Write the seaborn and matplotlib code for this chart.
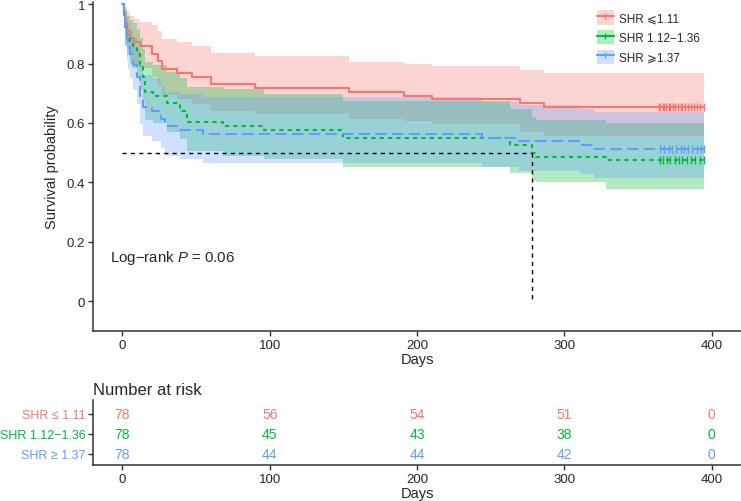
import matplotlib
matplotlib.use('Agg')
import matplotlib.pyplot as plt
import seaborn as sns
from matplotlib.lines import Line2D
from matplotlib.patches import Patch

# Groups
groups = ['SHR \u2a7d1.11', 'SHR 1.12\u22121.36', 'SHR \u2a7e1.37']
table_labels = ['SHR \u2264 1.11', 'SHR 1.12\u22121.36', 'SHR \u2265 1.37']
colors = ['#F8766D', '#00BA38', '#619CFF']
styles = ['-', (0, (2, 2)), (0, (5.5, 2.5))]

# Kaplan-Meier steps
red_t = [0, 1, 2, 3, 5, 8, 12, 20, 24, 27, 37, 47, 60, 90, 154, 191, 210, 270, 286]
red_s = [1, .962, .936, .910, .885, .872, .859, .833, .808, .782, .769, .756, .731, .718, .705, .692, .679, .667, .654]
red_up = [1, 1, .99, .975, .96, .95, .94, .93, .91, .882, .871, .86, .837, .826, .806, .80, .79, .779, .768]
red_lo = [1, .92, .88, .85, .815, .80, .785, .755, .725, .695, .68, .665, .64, .63, .613, .605, .596, .57, .555]

green_t = [0, 1, 2, 3, 5, 7, 10, 12, 14, 15.5, 21, 30, 39, 44, 68, 96, 150, 263, 278, 281, 328]
green_s = [1, .962, .923, .897, .872, .859, .833, .795, .756, .705, .692, .667, .641, .603, .590, .577, .551, .526, .500, .487, .474]
green_up = [1, 1, .98, .96, .945, .935, .915, .885, .85, .805, .795, .772, .75, .72, .714, .697, .674, .648, .62, .61, .60]
green_lo = [1, .92, .86, .83, .80, .785, .75, .71, .67, .61, .60, .57, .545, .505, .49, .478, .453, .433, .405, .40, .377]

blue_t = [0, 1, 2, 3, 4, 5, 7, 10, 12, 14, 20, 26, 29, 39, 55, 244, 269, 311, 320]
blue_s = [1, .962, .923, .885, .859, .833, .795, .756, .692, .654, .641, .615, .590, .577, .564, .551, .538, .526, .513]
blue_up = [1, 1, .98, .955, .935, .915, .885, .85, .795, .76, .75, .725, .705, .697, .686, .672, .66, .648, .636]
blue_lo = [1, .92, .86, .81, .78, .75, .71, .665, .595, .555, .54, .515, .49, .478, .465, .452, .44, .428, .415]

end_time = 395

# Censored times
red_cens = [364, 365, 367, 368, 369, 371, 372, 374, 375, 377, 379, 380, 382, 384, 386, 388, 390, 392, 395]
green_cens = [365, 367, 370, 372, 375, 378, 380, 383, 386, 389, 392, 395]
blue_cens = [365, 368, 371, 373, 376, 379, 381, 384, 387, 390, 393, 395]

# Number at risk
risk_times = [0, 100, 200, 300, 400]
red_risk = [78, 56, 54, 51, 0]
green_risk = [78, 45, 43, 38, 0]
blue_risk = [78, 44, 44, 42, 0]

median_time = 278
median_surv = 0.5

sns.set_style('white')
plt.rcParams['font.family'] = ['Liberation Sans', 'DejaVu Sans']
plt.rcParams['mathtext.fontset'] = 'custom'
plt.rcParams['mathtext.rm'] = 'Liberation Sans'
plt.rcParams['mathtext.it'] = 'Liberation Sans:italic'

fig = plt.figure(figsize=(7.41, 5.02), dpi=100)
ax = fig.add_axes([93 / 741, 1 - 332 / 502, 648 / 741, 329 / 502])

curves = [
    (red_t, red_s, red_up, red_lo, red_cens),
    (green_t, green_s, green_up, green_lo, green_cens),
    (blue_t, blue_s, blue_up, blue_lo, blue_cens),
]

# Confidence bands
for (t, s, up, lo, cens), c in zip(curves, colors):
    tt = t + [end_time]
    ax.fill_between(tt, lo + [lo[-1]], up + [up[-1]], step='post',
                    color=c, alpha=0.3, lw=0)

# Survival lines
for (t, s, up, lo, cens), c, ls in zip(curves, colors, styles):
    tt = t + [end_time]
    ss = s + [s[-1]]
    sns.lineplot(x=tt, y=ss, drawstyle='steps-post', color=c, lw=1.5,
                 linestyle=ls, ax=ax, errorbar=None)
    ax.plot(cens, [s[-1]] * len(cens), ls='none', marker='|', ms=6,
            mew=1.0, color=c)

# Median survival
ax.plot([0, median_time], [median_surv, median_surv], color='black',
        ls=(0, (3, 3)), lw=1)
ax.plot([median_time, median_time], [median_surv, 0], color='black',
        ls=(0, (3, 3)), lw=1)

ax.text(-8.6, 0.15, 'Log\u2212rank $\\mathit{P}$ = 0.06', fontsize=10.8,
        va='center', ha='left')

ax.set_xlim(-20, 420)
ax.set_ylim(-0.1, 1.007)
ax.set_xticks(risk_times)
ax.set_yticks([0, 0.2, 0.4, 0.6, 0.8, 1])
ax.set_yticklabels(['0', '0.2', '0.4', '0.6', '0.8', '1'])
ax.set_xlabel('Days', fontsize=10.5, labelpad=1)
ax.set_ylabel('Survival probability', fontsize=10.5, labelpad=6)

handles = [(Patch(facecolor=c, alpha=0.3, edgecolor='none'),
            Line2D([], [], color=c, ls='-', lw=1.5, marker='|', ms=5))
           for c in colors]
ax.legend(handles, groups, loc='upper right', bbox_to_anchor=(0.95, 1.0),
          frameon=False, fontsize=8.5, handlelength=1.4, handleheight=1.5,
          labelspacing=0.45, handletextpad=0.5, borderaxespad=0.3)

sns.despine(ax=ax)

# Risk table
tab = fig.add_axes([93 / 741, 1 - 466 / 502, 648 / 741, 65 / 502])
risks = [red_risk, green_risk, blue_risk]
for i, (vals, c) in enumerate(zip(risks, colors)):
    for x, v in zip(risk_times, vals):
        tab.text(x, 3 - i, str(v), color=c, ha='center', va='center',
                 fontsize=10)
tab.set_xlim(-20, 420)
tab.set_ylim(0.45, 3.7)
tab.set_xticks(risk_times)
tab.set_yticks([3, 2, 1])
tab.set_yticklabels(table_labels, fontsize=9)
for lbl, c in zip(tab.get_yticklabels(), colors):
    lbl.set_color(c)
tab.set_xlabel('Days', fontsize=10.5, labelpad=1)
tab.set_title('Number at risk', loc='left', fontsize=12, pad=4)
sns.despine(ax=tab)

for a in [ax, tab]:
    for sp in ['left', 'bottom']:
        a.spines[sp].set_color('#333333')
        a.spines[sp].set_linewidth(1.1)
    a.tick_params(direction='out', length=3.5, width=1, color='#333333',
                  labelsize=9.5, pad=2, left=True, bottom=True)
tab.tick_params(axis='y', labelsize=9)

fig.savefig('out.png', dpi=100)
